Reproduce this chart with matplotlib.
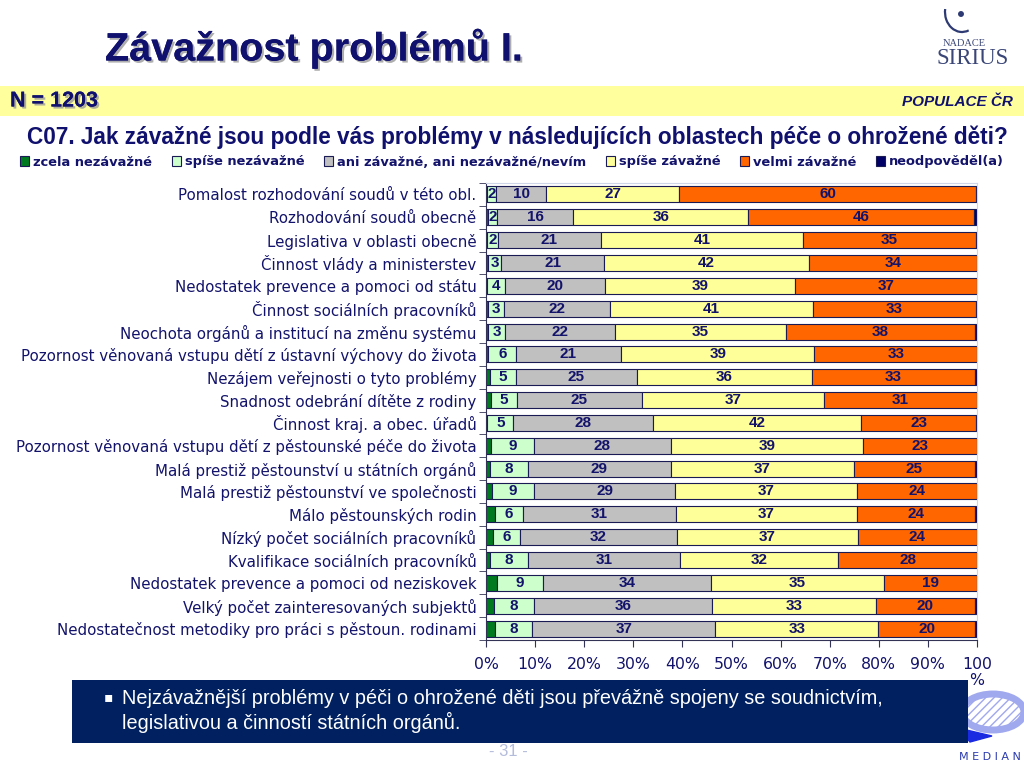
import matplotlib.pyplot as plt
import matplotlib.patheffects as pe
from matplotlib.patches import Patch, Rectangle, Arc, Polygon, Ellipse
import numpy as np

categories = [
    "Pomalost rozhodování soudů v této obl.",
    "Rozhodování soudů obecně",
    "Legislativa v oblasti obecně",
    "Činnost vlády a ministerstev",
    "Nedostatek prevence a pomoci od státu",
    "Činnost sociálních pracovníků",
    "Neochota orgánů a institucí na změnu systému",
    "Pozornost věnovaná vstupu dětí z ústavní výchovy do života",
    "Nezájem veřejnosti o tyto problémy",
    "Snadnost odebrání dítěte z rodiny",
    "Činnost kraj. a obec. úřadů",
    "Pozornost věnovaná vstupu dětí z pěstounské péče do života",
    "Malá prestiž pěstounství u státních orgánů",
    "Malá prestiž pěstounství ve společnosti",
    "Málo pěstounských rodin",
    "Nízký počet sociálních pracovníků",
    "Kvalifikace sociálních pracovníků",
    "Nedostatek prevence a pomoci od neziskovek",
    "Velký počet zainteresovaných subjektů",
    "Nedostatečnost metodiky pro práci s pěstoun. rodinami",
]

zcela_nezavazne = [0.2, 0.4, 0.3, 0.5, 0.2, 0.4, 0.5, 0.5, 0.8, 1.0,
                   0.3, 1.0, 0.8, 1.2, 1.8, 1.4, 0.8, 2.2, 1.6, 1.8]
spise_nezavazne = [1.9, 1.8, 2.1, 2.6, 3.7, 3.2, 3.3, 5.6, 5.3, 5.3,
                   5.3, 8.8, 7.7, 8.6, 5.7, 5.6, 7.7, 9.4, 8.1, 7.6]
ani_ani = [10.2, 15.6, 21.0, 21.0, 20.3, 21.6, 22.4, 21.4, 24.6, 25.4,
           28.4, 27.8, 29.1, 28.7, 31.2, 31.8, 31.0, 34.2, 36.3, 37.3]
spise_zavazne = [27.1, 35.6, 41.1, 41.6, 38.8, 41.4, 35.0, 39.4, 35.6, 37.1,
                 42.4, 39.2, 37.3, 37.1, 36.9, 36.9, 32.2, 35.2, 33.4, 33.2]
velmi_zavazne = [60.4, 45.9, 35.3, 34.3, 37.0, 33.1, 38.3, 33.1, 33.2, 31.2,
                 23.4, 23.2, 24.6, 24.4, 24.0, 24.3, 28.3, 19.0, 20.2, 19.7]
neodpovedel = [0.2, 0.7, 0.2, 0.0, 0.0, 0.3, 0.5, 0.0, 0.5, 0.0,
               0.2, 0.0, 0.5, 0.0, 0.4, 0.0, 0.0, 0.0, 0.4, 0.4]

series_names = ["zcela nezávažné", "spíše nezávažné", "ani závažné, ani nezávažné/nevím",
                "spíše závažné", "velmi závažné", "neodpověděl(a)"]
series = [zcela_nezavazne, spise_nezavazne, ani_ani, spise_zavazne, velmi_zavazne, neodpovedel]
colors = ["#007a1e", "#ccffcc", "#c0c0c0", "#ffff99", "#ff6600", "#000066"]
labelled = [False, True, True, True, True, False]

x_ticks = [0, 10, 20, 30, 40, 50, 60, 70, 80, 90, 100]
x_ticklabels = ["0%", "10%", "20%", "30%", "40%", "50%", "60%", "70%", "80%", "90%", "100\n%"]

navy = "#13136b"
W, H = 1024, 768

fig = plt.figure(figsize=(10.24, 7.68), dpi=100)

# pozadi v pixelech
bg = fig.add_axes([0, 0, 1, 1], zorder=0)
bg.set_xlim(0, W)
bg.set_ylim(H, 0)
bg.axis("off")

bg.add_patch(Rectangle((0, 86), W, 30, color="#ffff9e", lw=0))

shadow = [pe.withSimplePatchShadow(offset=(1.5, -1.5), shadow_rgbFace="#9a9a9a", alpha=0.8), pe.Normal()]
bg.text(105, 48, "Závažnost problémů I.", fontsize=28.5, fontweight="bold", color="#10106e",
        family="Liberation Sans", va="center", ha="left", path_effects=shadow)
bg.text(10, 101, "N = 1203", fontsize=15.5, fontweight="bold", color="#10106e",
        family="Liberation Sans", va="center", ha="left", path_effects=shadow)
bg.text(1013, 102, "POPULACE ČR", fontsize=11, fontweight="bold", style="italic", color="#10106e",
        family="Liberation Sans", va="center", ha="right")
bg.text(27, 137, "C07. Jak závažné jsou podle vás problémy v následujících oblastech péče o ohrožené děti?",
        fontsize=16.3, fontweight="bold", color="#10106e", family="Liberation Sans", va="center", ha="left")

# logo Sirius
bg.add_patch(Arc((962, 12), 34, 40, theta1=70, theta2=190, color="#2d3a73", lw=1.6))
bg.add_patch(Ellipse((961, 14), 4.5, 4.5, color="#2d3a73"))
bg.text(964, 44, "NADACE", fontsize=7.5, family="Liberation Serif", color="#3a4677", ha="center", va="center")
bg.text(973, 58, "SIRIUS", fontsize=16.5, family="Liberation Serif", color="#3a4677", ha="center", va="center")

# logo Median (za boxem)
bg.add_patch(Ellipse((993, 712), 62, 36, fill=False, ec="#a0a8ee", lw=5, hatch="////"))
bg.add_patch(Polygon([[958, 728], [992, 736], [970, 742]], closed=True, color="#1a2ae0"))
bg.text(990, 757, "M E D I A N", fontsize=8, color="#2a3ab0", ha="center", va="center")

# spodni box
bg.add_patch(Rectangle((72, 680), 896, 63, color="#002060", lw=0))
bg.text(104, 697, "▪", fontsize=10, color="white", ha="left", va="center", family="DejaVu Sans")
bg.text(122, 698, "Nejzávažnější problémy v péči o ohrožené děti jsou převážně spojeny se soudnictvím,",
        fontsize=14.3, color="white", family="Liberation Sans", ha="left", va="center")
bg.text(122, 722, "legislativou a činností státních orgánů.",
        fontsize=14.3, color="white", family="Liberation Sans", ha="left", va="center")
bg.text(508, 752, "- 31 -", fontsize=12, color="#b4bcdc", family="Liberation Sans", ha="center", va="center")

# graf
ax = fig.add_axes([486 / W, 1 - 640 / H, (977 - 486) / W, (640 - 183) / H], zorder=2)
ax.patch.set_alpha(0)
y = np.arange(len(categories))
left = np.zeros(len(categories))
for name, vals, col, lab in zip(series_names, series, colors, labelled):
    vals = np.array(vals)
    ax.barh(y, vals, left=left, height=0.7, color=col, edgecolor="#1a1a55", linewidth=0.8, label=name)
    if lab:
        for yi, l, v in zip(y, left, vals):
            if v >= 1.5:
                ax.text(l + v / 2, yi, f"{v:.0f}", ha="center", va="center", fontsize=11,
                        fontweight="bold", color=navy, family="Liberation Sans")
    left += vals

ax.set_xlim(0, 100)
ax.set_ylim(len(categories) - 0.5, -0.5)
ax.set_yticks(y)
ax.set_yticklabels(categories, fontsize=10.8, color=navy, family="DejaVu Sans")
ax.set_yticks(np.arange(-0.5, len(categories), 1), minor=True)
ax.tick_params(axis="y", which="major", length=0, pad=7)
ax.tick_params(axis="y", which="minor", length=5, color="#333355", direction="out")
ax.set_xticks(x_ticks)
ax.set_xticklabels(x_ticklabels, fontsize=11.3, color=navy, family="DejaVu Sans", va="top", linespacing=1.1)
ax.tick_params(axis="x", length=5, color="#333355", pad=7)
for s in ["top", "right"]:
    ax.spines[s].set_color("#d0d6ea")
    ax.spines[s].set_linewidth(0.8)
ax.spines["left"].set_color("#333355")
ax.spines["bottom"].set_color("#333355")

handles = [Patch(facecolor=c, edgecolor="#1a1a55", linewidth=0.8) for c in colors]
fig.legend(handles, series_names, loc="center", bbox_to_anchor=(512 / W, 1 - 162 / H), ncol=6,
           frameon=False, handlelength=0.7, handleheight=0.7, handletextpad=0.3, columnspacing=1.5,
           prop={"family": "DejaVu Sans", "weight": "bold", "size": 9.4}, labelcolor=navy)

fig.savefig("out.png", dpi=100)
